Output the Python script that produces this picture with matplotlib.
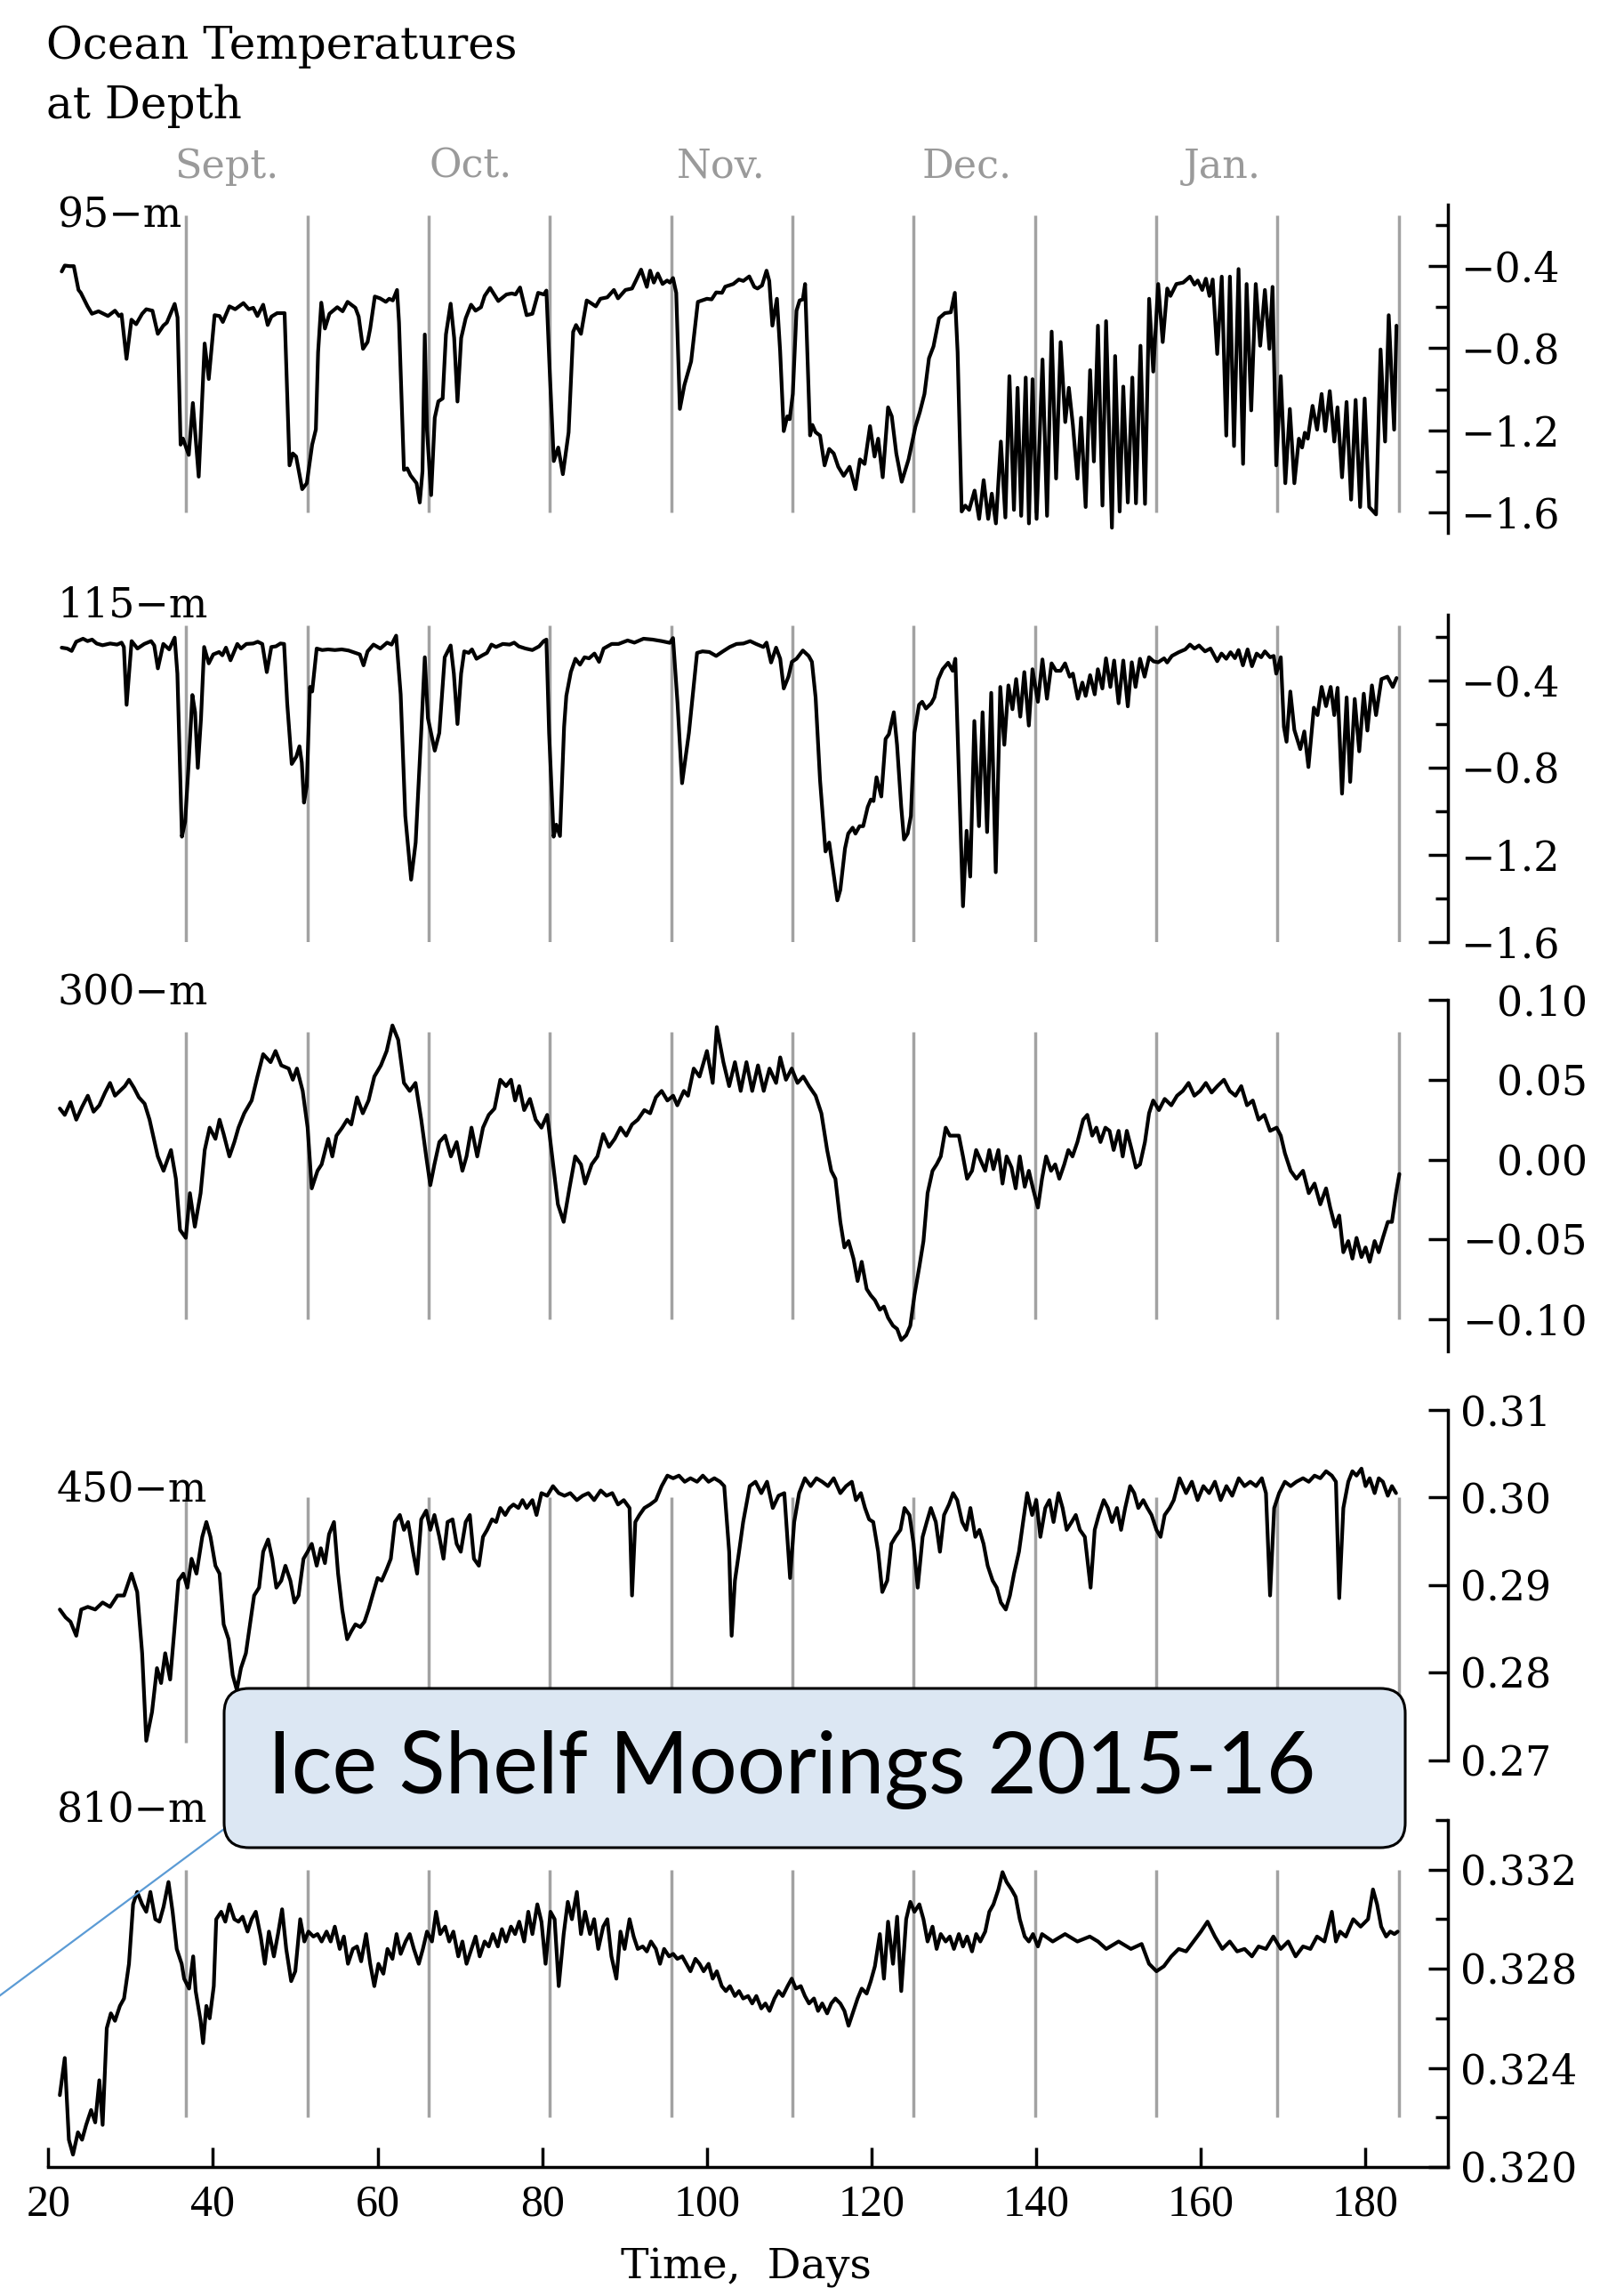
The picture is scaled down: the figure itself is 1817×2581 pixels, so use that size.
import matplotlib
matplotlib.use("Agg")
import matplotlib.pyplot as plt
from matplotlib.patches import FancyBboxPatch
from matplotlib import transforms

# ---------------- data ----------------
title_lines = ["Ocean Temperatures", "at Depth"]
month_names = ["Sept.", "Oct.", "Nov.", "Dec.", "Jan."]
month_label_days = [41.7, 71.3, 101.7, 131.6, 162.6]
month_lines = [36.73, 51.46, 66.19, 80.92, 95.65, 110.38, 125.11, 139.84, 154.57, 169.30, 184.03]
depth_labels = ["95\u2212m", "115\u2212m", "300\u2212m", "450\u2212m", "810\u2212m"]
x_ticks = [20, 40, 60, 80, 100, 120, 140, 160, 180]
x_label = "Time,  Days"
callout_text = "Ice Shelf Moorings 2015-16"

days_95 = [21.63, 22.0, 22.6, 23.1, 23.67, 23.95, 24.77, 25.3, 26.1, 27.25, 28.1, 28.6, 28.9, 29.5, 30.1, 30.67,
           31.4, 31.9, 32.65, 33.3, 33.97, 34.4, 35.35, 35.7, 36.07, 36.35, 37.06, 37.56, 38.27, 38.99, 39.49,
           40.2, 40.8, 41.2, 42.0, 42.7, 43.7, 44.35, 44.9, 45.4, 46.1, 46.65, 47.1, 47.8, 48.2, 48.7, 49.3,
           49.7, 50.1, 50.84, 51.4, 52.05, 52.5, 52.77, 53.16, 53.6, 54.15, 55.1, 55.75, 56.35, 57.3, 57.7,
           58.23, 58.78, 59.1, 59.66, 60.3, 61.0, 61.4, 61.85, 62.36, 62.6, 63.2, 63.6, 64.0, 64.73, 65.12,
           65.45, 65.73, 66.0, 66.5, 66.94, 67.38, 67.9, 68.3, 68.87, 69.3, 69.7, 70.15, 70.7, 71.35, 71.9,
           72.56, 73.0, 73.66, 74.66, 75.65, 76.3, 76.75, 77.3, 78.1, 78.8, 79.5, 80.2, 80.5, 80.9, 81.4,
           81.94, 82.5, 83.2, 83.75, 84.1, 84.7, 85.4, 85.95, 86.5, 87.06, 87.9, 88.7, 89.2, 90.1, 90.9,
           91.35, 92.0, 92.7, 93.1, 93.55, 94.03, 94.61, 95.16, 95.5, 95.88, 96.27, 96.71, 97.26, 98.08,
           98.9, 100.0, 100.57, 101.12, 101.83, 102.22, 103.2, 103.87, 104.42, 105.14, 105.75, 106.14,
           106.69, 107.24, 107.57, 107.95, 108.5, 108.89, 109.33, 109.77, 110.05, 110.43, 110.88, 111.26,
           111.65, 111.92, 112.2, 112.53, 112.81, 113.19, 113.74, 114.29, 114.85, 115.4, 115.95, 116.61,
           117.33, 118.04, 118.59, 119.15, 119.81, 120.36, 120.8, 121.35, 122.0, 122.45, 123.0, 123.66,
           124.49, 125.32, 125.87, 126.42, 126.97, 127.52, 128.19, 128.9, 129.62, 130.11, 130.45, 130.94,
           131.38, 131.85, 132.51, 133.06, 133.61, 134.16, 134.6, 135.1, 135.7, 136.25, 136.74, 137.29,
           137.73, 138.17, 138.72, 139.11, 139.55, 140.04, 140.76, 141.31, 141.87, 142.41, 142.96, 143.52,
           143.96, 144.45, 145.0, 145.44, 146.0, 146.54, 147.0, 147.49, 148.04, 148.48, 149.19, 149.58,
           150.13, 150.57, 151.12, 151.67, 152.11, 152.66, 153.21, 153.71, 154.21, 154.81, 155.36, 155.91,
           156.3, 157.02, 157.85, 158.67, 159.22, 159.61, 160.16, 160.6, 161.04, 161.43, 161.98, 162.53,
           163.08, 163.52, 164.02, 164.57, 165.12, 165.55, 166.11, 166.66, 167.2, 167.77, 168.32, 168.7,
           169.15, 169.7, 170.25, 170.8, 171.35, 171.9, 172.29, 172.62, 172.98, 173.56, 174.11, 174.66,
           175.1, 175.65, 176.2, 176.59, 177.14, 177.69, 178.24, 178.79, 179.34, 179.89, 180.44, 181.27,
           181.82, 182.37, 182.81, 183.47, 183.75]
temp_95 = [-0.426, -0.397, -0.400, -0.400, -0.516, -0.530, -0.596, -0.632, -0.620, -0.643, -0.617, -0.643, -0.635,
           -0.852, -0.661, -0.683, -0.632, -0.610, -0.617, -0.730, -0.690, -0.675, -0.584, -0.650, -1.270, -1.240,
           -1.320, -1.067, -1.426, -0.777, -0.950, -0.639, -0.643, -0.672, -0.596, -0.610, -0.580, -0.610, -0.603,
           -0.643, -0.588, -0.687, -0.646, -0.629, -0.629, -0.629, -1.371, -1.313, -1.328, -1.487, -1.458, -1.270,
           -1.196, -0.820, -0.578, -0.704, -0.632, -0.600, -0.620, -0.574, -0.603, -0.646, -0.803, -0.770, -0.704,
           -0.548, -0.557, -0.574, -0.559, -0.567, -0.516, -0.675, -1.393, -1.386, -1.420, -1.458, -1.552, -1.400,
           -0.733, -1.200, -1.516, -1.139, -1.059, -1.045, -0.733, -0.583, -0.750, -1.060, -0.750, -0.654, -0.588,
           -0.617, -0.600, -0.545, -0.506, -0.570, -0.538, -0.533, -0.538, -0.504, -0.639, -0.632, -0.530, -0.538,
           -0.519, -0.907, -1.350, -1.284, -1.414, -1.210, -0.720, -0.687, -0.730, -0.567, -0.581, -0.596, -0.559,
           -0.552, -0.516, -0.557, -0.516, -0.509, -0.472, -0.417, -0.501, -0.422, -0.480, -0.436, -0.487, -0.470,
           -0.480, -0.458, -0.530, -1.096, -0.980, -0.864, -0.574, -0.559, -0.562, -0.528, -0.530, -0.500, -0.487,
           -0.465, -0.472, -0.450, -0.501, -0.509, -0.494, -0.422, -0.472, -0.690, -0.559, -0.813, -1.204, -1.132,
           -1.146, -1.023, -0.617, -0.567, -0.562, -0.487, -0.820, -1.225, -1.174, -1.209, -1.226, -1.371, -1.291,
           -1.313, -1.378, -1.422, -1.378, -1.487, -1.342, -1.364, -1.180, -1.328, -1.241, -1.429, -1.088, -1.132,
           -1.313, -1.451, -1.342, -1.183, -1.110, -1.023, -0.849, -0.791, -0.654, -0.629, -0.625, -0.530, -0.820,
           -1.596, -1.567, -1.588, -1.494, -1.632, -1.443, -1.632, -1.509, -1.654, -1.255, -1.625, -0.936, -1.588,
           -0.993, -1.617, -0.943, -1.654, -0.951, -1.632, -0.855, -1.617, -0.719, -1.435, -0.770, -1.160, -0.993,
           -1.175, -1.436, -1.139, -1.574, -0.907, -1.352, -0.690, -1.567, -0.668, -1.675, -0.838, -1.596, -0.987,
           -1.552, -0.943, -1.556, -0.788, -1.559, -0.559, -0.914, -0.487, -0.770, -0.509, -0.545, -0.487, -0.480,
           -0.451, -0.490, -0.470, -0.516, -0.461, -0.545, -0.465, -0.828, -0.451, -1.226, -0.451, -1.277, -0.414,
           -1.364, -0.487, -1.103, -0.487, -0.788, -0.516, -0.803, -0.501, -1.371, -0.936, -1.458, -1.096, -1.458,
           -1.241, -1.284, -1.212, -1.241, -1.081, -1.197, -1.023, -1.204, -1.009, -1.255, -1.088, -1.429, -1.062,
           -1.538, -1.052, -1.574, -1.045, -1.574, -1.610, -0.806, -1.255, -0.639, -1.197, -0.690]

days_115 = [21.63, 22.29, 22.84, 23.39, 24.22, 24.77, 25.32, 25.87, 26.59, 27.52, 28.35, 28.9, 29.18, 29.51, 30.12,
            30.83, 31.66, 32.49, 32.87, 33.31, 33.97, 34.69, 35.35, 35.68, 36.23, 36.62, 37.06, 37.5, 37.83, 38.16,
            38.55, 38.93, 39.49, 40.04, 40.75, 41.14, 41.58, 42.13, 42.96, 43.4, 44.06, 44.89, 45.44, 45.99, 46.54,
            47.09, 47.65, 48.2, 48.64, 49.02, 49.57, 50.13, 50.51, 50.79, 51.06, 51.39, 51.78, 52.05, 52.6, 53.27,
            53.98, 54.81, 55.64, 56.46, 57.29, 57.84, 58.29, 58.78, 59.5, 60.33, 61.15, 61.7, 62.25, 62.8, 63.36,
            64.07, 64.62, 65.29, 65.73, 66.11, 66.94, 67.49, 68.15, 68.87, 69.26, 69.7, 70.14, 70.52, 71.07, 71.46,
            72.01, 72.73, 73.28, 73.83, 74.38, 75.21, 76.04, 76.59, 77.14, 77.96, 78.79, 79.62, 80.17, 80.5, 80.83,
            81.38, 81.71, 82.15, 82.65, 82.92, 83.47, 84.03, 84.58, 85.13, 85.68, 86.34, 86.9, 87.45, 88.44, 89.26,
            90.37, 91.19, 92.3, 93.4, 94.5, 95.5, 95.88, 96.43, 96.98, 97.81, 98.8, 99.46, 100.29, 101.12, 101.94,
            102.77, 103.6, 104.43, 105.25, 105.97, 106.85, 107.24, 107.79, 108.4, 108.9, 109.33, 109.9, 110.32,
            110.88, 111.65, 112.36, 112.75, 113.2, 113.74, 114.4, 114.85, 115.4, 115.84, 116.2, 116.77, 117.16,
            117.7, 118.04, 118.54, 118.98, 119.53, 119.9, 120.23, 120.6, 121.18, 121.7, 122.1, 122.7, 123.09,
            123.6, 123.94, 124.38, 124.77, 125.2, 125.76, 126.14, 126.6, 127.25, 127.63, 128.08, 128.63, 129.3,
            129.84, 130.17, 130.56, 131.1, 131.54, 131.98, 132.48, 133.04, 133.48, 134.03, 134.53, 135.08, 135.63,
            136.12, 136.62, 137.11, 137.56, 138.06, 138.55, 139.1, 139.54, 140.2, 140.75, 141.3, 141.86, 142.4,
            142.96, 143.5, 144.06, 144.45, 145.05, 145.6, 146.0, 146.54, 147.1, 147.48, 148.03, 148.47, 149.0,
            149.46, 150.0, 150.57, 151.12, 151.6, 152.06, 152.6, 153.16, 153.7, 154.26, 154.81, 155.53, 155.9,
            156.47, 157.3, 158.1, 158.67, 159.22, 159.77, 160.5, 161.16, 161.98, 162.5, 163.08, 163.6, 164.13,
            164.57, 165.1, 165.67, 166.2, 166.77, 167.32, 167.77, 168.4, 168.84, 169.15, 169.7, 170.08, 170.4,
            170.86, 171.35, 172.07, 172.56, 173.06, 173.72, 174.16, 174.66, 175.2, 175.76, 176.2, 176.6, 177.14,
            177.7, 178.13, 178.68, 179.23, 179.78, 180.22, 180.77, 181.27, 181.93, 182.65, 183.3, 183.76]
temp_115 = [-0.251, -0.255, -0.266, -0.224, -0.210, -0.221, -0.214, -0.232, -0.240, -0.232, -0.237, -0.228, -0.248,
            -0.513, -0.221, -0.255, -0.234, -0.221, -0.241, -0.346, -0.234, -0.259, -0.205, -0.370, -1.117, -1.049,
            -0.777, -0.468, -0.547, -0.802, -0.574, -0.248, -0.323, -0.282, -0.271, -0.286, -0.251, -0.309, -0.234,
            -0.255, -0.234, -0.232, -0.224, -0.234, -0.363, -0.248, -0.245, -0.232, -0.234, -0.506, -0.784, -0.750,
            -0.703, -0.777, -0.961, -0.886, -0.431, -0.452, -0.255, -0.262, -0.259, -0.262, -0.259, -0.264, -0.275,
            -0.282, -0.332, -0.268, -0.237, -0.255, -0.228, -0.237, -0.196, -0.465, -1.022, -1.314, -1.144, -0.642,
            -0.295, -0.574, -0.723, -0.642, -0.295, -0.241, -0.370, -0.601, -0.370, -0.268, -0.275, -0.259, -0.302,
            -0.286, -0.275, -0.237, -0.248, -0.234, -0.237, -0.228, -0.245, -0.255, -0.262, -0.245, -0.221, -0.214,
            -0.642, -1.117, -1.062, -1.114, -0.614, -0.472, -0.363, -0.302, -0.329, -0.295, -0.300, -0.278, -0.316,
            -0.255, -0.234, -0.234, -0.218, -0.228, -0.210, -0.214, -0.221, -0.229, -0.207, -0.506, -0.872, -0.642,
            -0.275, -0.268, -0.271, -0.289, -0.268, -0.248, -0.234, -0.232, -0.221, -0.234, -0.248, -0.228, -0.319,
            -0.251, -0.302, -0.438, -0.384, -0.316, -0.302, -0.264, -0.289, -0.316, -0.479, -0.859, -1.185, -1.144,
            -1.293, -1.409, -1.361, -1.171, -1.103, -1.076, -1.103, -1.069, -1.069, -0.981, -0.947, -0.954, -0.845,
            -0.933, -0.669, -0.648, -0.547, -0.696, -0.981, -1.130, -1.103, -1.022, -0.642, -0.513, -0.499, -0.530,
            -0.506, -0.479, -0.397, -0.350, -0.320, -0.357, -0.302, -0.777, -1.436, -1.090, -1.300, -0.587, -1.069,
            -0.547, -1.096, -0.458, -1.280, -0.431, -0.696, -0.424, -0.533, -0.395, -0.567, -0.363, -0.608, -0.350,
            -0.499, -0.305, -0.485, -0.323, -0.357, -0.357, -0.323, -0.384, -0.370, -0.485, -0.411, -0.472, -0.377,
            -0.465, -0.350, -0.438, -0.300, -0.431, -0.310, -0.506, -0.310, -0.520, -0.318, -0.431, -0.302, -0.384,
            -0.295, -0.314, -0.318, -0.300, -0.319, -0.289, -0.272, -0.259, -0.237, -0.255, -0.241, -0.268, -0.255,
            -0.313, -0.278, -0.302, -0.272, -0.299, -0.262, -0.332, -0.259, -0.336, -0.278, -0.295, -0.268, -0.295,
            -0.289, -0.370, -0.295, -0.614, -0.682, -0.452, -0.628, -0.716, -0.635, -0.798, -0.526, -0.560, -0.431,
            -0.519, -0.431, -0.560, -0.435, -0.920, -0.479, -0.866, -0.486, -0.726, -0.462, -0.631, -0.424, -0.560,
            -0.395, -0.384, -0.431, -0.390]

days_300 = [21.4, 22.0, 22.7, 23.4, 24.1, 24.8, 25.5, 26.2, 26.9, 27.5, 28.1, 28.7, 29.3, 29.8, 30.4, 31.0, 31.7,
            32.3, 33.3, 34.0, 34.9, 35.5, 36.0, 36.7, 37.2, 37.8, 38.5, 39.0, 39.6, 40.3, 40.8, 41.3, 42.0, 42.6,
            43.1, 43.8, 44.7, 45.4, 46.1, 47.0, 47.6, 48.3, 49.2, 49.7, 50.2, 50.9, 51.5, 52.0, 52.7, 53.2, 54.0,
            54.5, 55.0, 55.7, 56.3, 56.8, 57.5, 58.2, 58.9, 59.6, 60.4, 61.1, 61.8, 62.5, 63.2, 63.9, 64.6, 65.3,
            65.9, 66.4, 66.9, 67.5, 68.2, 68.9, 69.6, 70.3, 70.8, 71.4, 72.1, 72.8, 73.5, 74.2, 74.9, 75.6, 76.2,
            76.7, 77.2, 77.8, 78.5, 79.2, 79.9, 80.6, 81.2, 81.9, 82.6, 83.3, 84.0, 84.7, 85.2, 86.0, 86.7, 87.4,
            88.1, 88.8, 89.5, 90.2, 90.9, 91.6, 92.4, 93.1, 93.8, 94.5, 95.2, 95.9, 96.4, 97.2, 97.7, 98.4, 99.1,
            100.0, 100.7, 101.2, 102.0, 102.7, 103.4, 104.1, 104.8, 105.5, 106.2, 106.9, 107.6, 108.4, 108.9,
            109.6, 110.3, 111.0, 111.7, 112.4, 113.2, 113.9, 114.6, 115.1, 115.6, 116.2, 116.7, 117.2, 117.8,
            118.3, 118.8, 119.4, 119.9, 120.4, 121.0, 121.5, 122.0, 122.6, 123.1, 123.6, 124.2, 124.7, 125.2,
            125.8, 126.3, 126.8, 127.4, 127.9, 128.4, 129.0, 129.5, 130.0, 130.6, 131.1, 131.6, 132.2, 132.7,
            133.2, 133.8, 134.3, 134.8, 135.4, 135.9, 136.4, 137.0, 137.5, 138.0, 138.6, 139.1, 139.6, 140.2,
            140.7, 141.2, 141.8, 142.3, 142.8, 143.4, 143.9, 144.4, 145.0, 145.7, 146.2, 146.8, 147.3, 147.8,
            148.4, 148.9, 149.4, 150.0, 150.5, 151.0, 151.6, 152.1, 152.6, 153.2, 153.7, 154.2, 154.9, 155.6,
            156.4, 157.1, 157.8, 158.5, 159.2, 159.9, 160.6, 161.3, 162.0, 162.8, 163.5, 164.2, 164.9, 165.6,
            166.3, 167.0, 167.7, 168.4, 169.2, 169.7, 170.2, 170.9, 171.6, 172.4, 173.1, 173.8, 174.5, 175.2,
            175.7, 176.3, 176.8, 177.3, 177.9, 178.4, 178.9, 179.5, 180.0, 180.5, 181.1, 181.6, 182.1, 182.7,
            183.2, 183.7, 184.1]
temp_300 = [0.032, 0.028, 0.036, 0.025, 0.033, 0.040, 0.030, 0.034, 0.042, 0.048, 0.040, 0.043, 0.046, 0.050, 0.045,
            0.039, 0.035, 0.025, 0.002, -0.007, 0.006, -0.012, -0.044, -0.049, -0.021, -0.042, -0.021, 0.006, 0.020,
            0.013, 0.025, 0.016, 0.002, 0.011, 0.020, 0.029, 0.037, 0.052, 0.066, 0.061, 0.068, 0.059, 0.057, 0.050,
            0.057, 0.043, 0.020, -0.018, -0.007, -0.003, 0.013, 0.002, 0.015, 0.020, 0.025, 0.022, 0.039, 0.029,
            0.037, 0.052, 0.059, 0.068, 0.084, 0.075, 0.048, 0.043, 0.048, 0.025, 0.002, -0.016, -0.003, 0.011,
            0.015, 0.002, 0.011, -0.007, 0.002, 0.020, 0.002, 0.020, 0.028, 0.032, 0.050, 0.046, 0.050, 0.037,
            0.046, 0.031, 0.038, 0.025, 0.020, 0.028, 0.002, -0.028, -0.039, -0.018, 0.002, -0.003, -0.015, -0.003,
            0.002, 0.016, 0.008, 0.013, 0.020, 0.015, 0.022, 0.025, 0.031, 0.029, 0.039, 0.043, 0.037, 0.040,
            0.034, 0.043, 0.040, 0.057, 0.052, 0.068, 0.048, 0.083, 0.061, 0.046, 0.061, 0.043, 0.061, 0.043,
            0.059, 0.043, 0.057, 0.048, 0.064, 0.050, 0.057, 0.048, 0.052, 0.046, 0.040, 0.029, 0.006, -0.007,
            -0.012, -0.039, -0.055, -0.051, -0.062, -0.076, -0.064, -0.081, -0.085, -0.088, -0.094, -0.092, -0.099,
            -0.104, -0.106, -0.113, -0.110, -0.104, -0.085, -0.067, -0.051, -0.021, -0.007, -0.003, 0.002, 0.020,
            0.015, 0.015, 0.015, 0.002, -0.012, -0.007, 0.006, 0.000, -0.007, 0.006, -0.006, 0.006, -0.015, 0.002,
            -0.005, -0.018, 0.002, -0.017, -0.007, -0.018, -0.030, -0.012, 0.002, -0.007, -0.003, -0.012, -0.003,
            0.006, 0.002, 0.011, 0.025, 0.028, 0.015, 0.020, 0.011, 0.020, 0.018, 0.006, 0.018, 0.002, 0.018,
            0.006, -0.005, -0.003, 0.011, 0.029, 0.037, 0.031, 0.038, 0.034, 0.040, 0.043, 0.048, 0.040, 0.043,
            0.048, 0.042, 0.046, 0.050, 0.043, 0.040, 0.046, 0.034, 0.037, 0.025, 0.028, 0.018, 0.020, 0.015,
            0.004, -0.007, -0.012, -0.007, -0.021, -0.015, -0.028, -0.018, -0.030, -0.042, -0.035, -0.058, -0.051,
            -0.062, -0.049, -0.061, -0.055, -0.064, -0.051, -0.058, -0.049, -0.039, -0.039, -0.021, -0.009]

days_450 = [21.4, 22.1, 22.7, 23.4, 24.0, 24.8, 25.7, 26.6, 27.5, 28.4, 29.2, 30.1, 30.8, 31.4, 31.9, 32.6, 33.2,
            33.7, 34.2, 34.8, 35.3, 35.8, 36.4, 36.9, 37.4, 38.0, 38.7, 39.2, 39.7, 40.3, 40.8, 41.3, 41.9, 42.4,
            42.9, 43.4, 44.0, 44.5, 45.0, 45.6, 46.1, 46.7, 47.2, 47.7, 48.3, 48.8, 49.4, 49.9, 50.4, 51.0, 51.5,
            52.0, 52.6, 53.1, 53.6, 54.1, 54.7, 55.2, 55.7, 56.3, 56.8, 57.3, 57.9, 58.4, 58.9, 59.5, 60.0, 60.5,
            61.1, 61.6, 62.1, 62.7, 63.2, 63.7, 64.3, 64.8, 65.3, 65.9, 66.4, 66.9, 67.5, 68.0, 68.5, 69.1, 69.6,
            70.1, 70.7, 71.2, 71.7, 72.3, 72.8, 73.3, 73.9, 74.4, 74.9, 75.5, 76.0, 76.5, 77.1, 77.6, 78.1, 78.8,
            79.3, 79.9, 80.6, 81.3, 82.0, 82.7, 83.4, 84.2, 84.9, 85.6, 86.3, 87.1, 87.8, 88.5, 89.2, 89.9, 90.6,
            90.9, 91.3, 91.8, 92.4, 93.1, 93.8, 94.5, 95.2, 95.9, 96.6, 97.3, 98.0, 98.8, 99.5, 100.2, 100.9,
            101.6, 102.1, 102.7, 103.0, 103.4, 103.9, 104.4, 105.2, 105.9, 106.6, 107.3, 108.0, 108.7, 109.4,
            110.1, 110.6, 111.2, 111.9, 112.6, 113.3, 114.0, 114.7, 115.4, 116.2, 116.9, 117.6, 118.1, 118.7,
            119.2, 119.7, 120.2, 120.8, 121.3, 121.9, 122.4, 122.9, 123.5, 124.0, 124.6, 125.1, 125.6, 126.2,
            126.7, 127.2, 127.8, 128.3, 128.8, 129.4, 129.9, 130.4, 131.0, 131.5, 132.0, 132.6, 133.1, 133.6,
            134.1, 134.7, 135.2, 135.7, 136.3, 136.8, 137.3, 137.9, 138.4, 138.9, 139.5, 140.0, 140.5, 141.1,
            141.6, 142.1, 142.7, 143.2, 143.7, 144.3, 144.8, 145.3, 145.9, 146.6, 147.1, 147.6, 148.2, 148.7,
            149.2, 149.8, 150.3, 150.8, 151.4, 151.9, 152.4, 153.0, 153.5, 154.0, 154.6, 155.1, 155.6, 156.2,
            156.7, 157.4, 158.2, 158.9, 159.6, 160.3, 161.0, 161.7, 162.4, 163.1, 163.8, 164.6, 165.3, 166.0,
            166.7, 167.4, 167.9, 168.4, 168.9, 169.5, 170.2, 170.9, 171.6, 172.4, 173.1, 173.8, 174.5, 175.2,
            175.9, 176.4, 176.8, 177.3, 177.9, 178.4, 178.9, 179.5, 180.0, 180.5, 181.1, 181.6, 182.1, 182.7,
            183.2, 183.7]
temp_450 = [0.2872, 0.2863, 0.2858, 0.2842, 0.2872, 0.2875, 0.2872, 0.2880, 0.2875, 0.2888, 0.2888, 0.2913, 0.2892,
            0.2822, 0.2722, 0.2755, 0.2805, 0.2788, 0.2822, 0.2792, 0.2847, 0.2905, 0.2913, 0.2897, 0.2930, 0.2913,
            0.2955, 0.2972, 0.2955, 0.2922, 0.2913, 0.2855, 0.2838, 0.2797, 0.2780, 0.2805, 0.2822, 0.2855, 0.2888,
            0.2897, 0.2938, 0.2952, 0.2930, 0.2897, 0.2905, 0.2922, 0.2905, 0.2880, 0.2888, 0.2930, 0.2938, 0.2947,
            0.2922, 0.2942, 0.2925, 0.2958, 0.2972, 0.2913, 0.2872, 0.2838, 0.2847, 0.2855, 0.2852, 0.2858, 0.2872,
            0.2892, 0.2908, 0.2905, 0.2918, 0.2930, 0.2972, 0.2980, 0.2963, 0.2972, 0.2938, 0.2913, 0.2975, 0.2985,
            0.2963, 0.2980, 0.2955, 0.2930, 0.2972, 0.2975, 0.2947, 0.2938, 0.2972, 0.2980, 0.2930, 0.2922, 0.2955,
            0.2963, 0.2975, 0.2972, 0.2988, 0.2980, 0.2988, 0.2992, 0.2988, 0.2997, 0.2988, 0.2997, 0.2980, 0.3005,
            0.3002, 0.3013, 0.3005, 0.3002, 0.3005, 0.2997, 0.3002, 0.3005, 0.2997, 0.3008, 0.3002, 0.3005, 0.2992,
            0.2997, 0.2988, 0.2888, 0.2972, 0.2980, 0.2988, 0.2992, 0.2997, 0.3013, 0.3025, 0.3022, 0.3025, 0.3018,
            0.3022, 0.3018, 0.3025, 0.3018, 0.3022, 0.3018, 0.3013, 0.2938, 0.2842, 0.2905, 0.2938, 0.2972, 0.3013,
            0.3018, 0.3005, 0.3018, 0.2988, 0.3002, 0.3005, 0.2908, 0.2972, 0.3005, 0.3022, 0.3013, 0.3022, 0.3018,
            0.3013, 0.3022, 0.3005, 0.3013, 0.3018, 0.2997, 0.3005, 0.2988, 0.2975, 0.2972, 0.2938, 0.2892, 0.2905,
            0.2947, 0.2955, 0.2963, 0.2988, 0.2980, 0.2947, 0.2897, 0.2955, 0.2972, 0.2988, 0.2972, 0.2938, 0.2980,
            0.2992, 0.3005, 0.2997, 0.2972, 0.2963, 0.2988, 0.2955, 0.2963, 0.2947, 0.2922, 0.2905, 0.2897, 0.2880,
            0.2872, 0.2888, 0.2913, 0.2938, 0.2972, 0.3005, 0.2980, 0.2997, 0.2955, 0.2988, 0.2997, 0.2972, 0.3005,
            0.2988, 0.2963, 0.2972, 0.2980, 0.2963, 0.2955, 0.2897, 0.2963, 0.2980, 0.2997, 0.2988, 0.2972, 0.2988,
            0.2963, 0.2988, 0.3013, 0.3005, 0.2988, 0.2997, 0.2988, 0.2980, 0.2963, 0.2955, 0.2980, 0.2988, 0.2997,
            0.3022, 0.3005, 0.3018, 0.2997, 0.3013, 0.3005, 0.3018, 0.2997, 0.3013, 0.3002, 0.3022, 0.3013, 0.3018,
            0.3013, 0.3022, 0.3005, 0.2888, 0.2988, 0.3005, 0.3018, 0.3013, 0.3018, 0.3022, 0.3018, 0.3025, 0.3022,
            0.3030, 0.3025, 0.3018, 0.2885, 0.2988, 0.3018, 0.3030, 0.3025, 0.3033, 0.3013, 0.3022, 0.3005, 0.3022,
            0.3018, 0.3002, 0.3013, 0.3005]

days_810 = [21.4, 22.0, 22.5, 23.0, 23.6, 24.1, 24.6, 25.2, 25.7, 26.2, 26.6, 27.1, 27.6, 28.1, 28.7, 29.2, 29.8,
            30.3, 30.8, 31.4, 31.9, 32.4, 33.0, 33.5, 34.0, 34.6, 35.1, 35.6, 36.2, 36.5, 37.1, 37.6, 37.9, 38.5,
            38.8, 39.2, 39.6, 40.1, 40.4, 41.0, 41.5, 42.0, 42.6, 43.1, 43.6, 44.2, 44.7, 45.2, 45.8, 46.3, 46.8,
            47.4, 47.9, 48.4, 48.9, 49.5, 50.0, 50.6, 51.1, 51.6, 52.2, 52.7, 53.2, 53.8, 54.3, 54.8, 55.4, 55.9,
            56.4, 57.0, 57.5, 58.0, 58.6, 59.1, 59.6, 60.1, 60.7, 61.2, 61.8, 62.3, 62.8, 63.4, 63.9, 64.4, 65.0,
            65.5, 66.0, 66.6, 67.1, 67.6, 68.2, 68.7, 69.2, 69.8, 70.3, 70.8, 71.4, 71.9, 72.4, 73.0, 73.5, 74.0,
            74.6, 75.1, 75.6, 76.2, 76.7, 77.2, 77.8, 78.3, 78.8, 79.4, 79.9, 80.4, 81.0, 81.5, 82.0, 82.6, 83.1,
            83.6, 84.2, 84.7, 85.2, 85.8, 86.3, 86.8, 87.4, 87.9, 88.4, 89.0, 89.5, 90.0, 90.6, 91.1, 91.6, 92.2,
            92.7, 93.2, 93.8, 94.3, 94.8, 95.4, 95.9, 96.4, 97.0, 97.5, 98.0, 98.6, 99.1, 99.6, 100.2, 100.7,
            101.2, 101.8, 102.3, 102.8, 103.4, 103.9, 104.4, 105.0, 105.5, 106.0, 106.6, 107.1, 107.6, 108.2,
            108.7, 109.2, 109.8, 110.3, 110.8, 111.4, 111.9, 112.4, 113.0, 113.5, 114.0, 114.6, 115.1, 115.6,
            116.2, 116.7, 117.2, 117.8, 118.3, 118.8, 119.4, 119.9, 120.4, 121.0, 121.5, 122.0, 122.6, 123.1,
            123.6, 124.2, 124.7, 125.2, 125.8, 126.3, 126.8, 127.4, 127.9, 128.4, 129.0, 129.5, 130.0, 130.6,
            131.1, 131.6, 132.2, 132.7, 133.2, 133.8, 134.3, 134.8, 135.4, 135.9, 136.4, 137.0, 137.5, 138.0,
            138.6, 139.1, 139.6, 140.2, 140.7, 142.0, 143.5, 145.0, 146.5, 147.5, 148.5, 150.0, 151.5, 152.8,
            153.7, 154.6, 155.5, 156.4, 157.3, 158.2, 159.1, 160.0, 160.8, 161.7, 162.6, 163.5, 164.4, 165.3,
            166.2, 167.0, 167.9, 168.8, 169.7, 170.6, 171.5, 172.4, 173.3, 174.1, 175.0, 175.9, 176.4, 176.9,
            177.6, 178.5, 179.4, 180.3, 180.9, 181.4, 181.9, 182.5, 183.0, 183.5, 183.9]
temp_810 = [0.3229, 0.3244, 0.3211, 0.3205, 0.3214, 0.3211, 0.3217, 0.3223, 0.3218, 0.3235, 0.3217, 0.3256, 0.3262,
            0.3259, 0.3265, 0.3268, 0.3282, 0.3306, 0.3311, 0.3306, 0.3303, 0.3311, 0.3300, 0.3299, 0.3305, 0.3315,
            0.3303, 0.3288, 0.3282, 0.3276, 0.3272, 0.3285, 0.3271, 0.3259, 0.3250, 0.3265, 0.3260, 0.3273, 0.3300,
            0.3303, 0.3299, 0.3306, 0.3300, 0.3299, 0.3301, 0.3295, 0.3300, 0.3303, 0.3293, 0.3282, 0.3295, 0.3285,
            0.3294, 0.3304, 0.3288, 0.3275, 0.3279, 0.3300, 0.3291, 0.3295, 0.3293, 0.3294, 0.3291, 0.3295, 0.3291,
            0.3297, 0.3288, 0.3293, 0.3282, 0.3288, 0.3289, 0.3283, 0.3294, 0.3282, 0.3273, 0.3282, 0.3278, 0.3288,
            0.3284, 0.3294, 0.3286, 0.3291, 0.3294, 0.3288, 0.3282, 0.3288, 0.3295, 0.3291, 0.3303, 0.3294, 0.3297,
            0.3291, 0.3295, 0.3285, 0.3291, 0.3282, 0.3288, 0.3293, 0.3285, 0.3291, 0.3289, 0.3294, 0.3289, 0.3296,
            0.3291, 0.3297, 0.3294, 0.3299, 0.3291, 0.3303, 0.3294, 0.3306, 0.3299, 0.3282, 0.3303, 0.3300, 0.3273,
            0.3294, 0.3307, 0.3300, 0.3311, 0.3294, 0.3303, 0.3294, 0.3300, 0.3288, 0.3297, 0.3300, 0.3285, 0.3276,
            0.3295, 0.3288, 0.3300, 0.3293, 0.3288, 0.3289, 0.3287, 0.3291, 0.3288, 0.3282, 0.3288, 0.3285, 0.3286,
            0.3284, 0.3285, 0.3282, 0.3279, 0.3284, 0.3282, 0.3279, 0.3282, 0.3276, 0.3279, 0.3273, 0.3271, 0.3273,
            0.3269, 0.3271, 0.3268, 0.3269, 0.3266, 0.3269, 0.3264, 0.3266, 0.3263, 0.3268, 0.3271, 0.3269, 0.3273,
            0.3276, 0.3272, 0.3273, 0.3269, 0.3266, 0.3268, 0.3263, 0.3266, 0.3262, 0.3266, 0.3268, 0.3266, 0.3263,
            0.3257, 0.3263, 0.3268, 0.3272, 0.3270, 0.3275, 0.3281, 0.3294, 0.3276, 0.3299, 0.3282, 0.3301, 0.3271,
            0.3300, 0.3307, 0.3303, 0.3306, 0.3300, 0.3291, 0.3297, 0.3288, 0.3294, 0.3291, 0.3293, 0.3288, 0.3294,
            0.3289, 0.3293, 0.3287, 0.3294, 0.3291, 0.3295, 0.3303, 0.3306, 0.3312, 0.3319, 0.3315, 0.3312, 0.3309,
            0.3300, 0.3293, 0.3291, 0.3294, 0.3289, 0.3294, 0.3291, 0.3294, 0.3291, 0.3293, 0.3291, 0.3288, 0.3291,
            0.3288, 0.3290, 0.3282, 0.3279, 0.3281, 0.3285, 0.3288, 0.3287, 0.3291, 0.3295, 0.3299, 0.3293, 0.3288,
            0.3291, 0.3287, 0.3288, 0.3285, 0.3289, 0.3288, 0.3293, 0.3288, 0.3291, 0.3285, 0.3289, 0.3288, 0.3293,
            0.3291, 0.3303, 0.3291, 0.3295, 0.3293, 0.3300, 0.3297, 0.3300, 0.3312, 0.3306, 0.3297, 0.3293, 0.3295,
            0.3294, 0.3295]

# panel axis settings (value ranges / ticks)
ylims = [(-1.7, -0.1), (-1.6, -0.1), (-0.12, 0.10), (0.27, 0.31), (0.320, 0.334)]
major_ticks = [[-1.6, -1.2, -0.8, -0.4], [-1.6, -1.2, -0.8, -0.4], [-0.10, -0.05, 0.0, 0.05, 0.10],
               [0.27, 0.28, 0.29, 0.30, 0.31], [0.320, 0.324, 0.328, 0.332]]
minor_ticks = [[-1.4, -1.0, -0.6, -0.2], [-1.4, -1.0, -0.6, -0.2], [], [], [0.322, 0.326, 0.330, 0.334]]
tick_decimals = [1, 1, 2, 2, 3]
grey_spans = [(-1.6, -0.15), (-1.6, -0.15), (-0.10, 0.08), (0.272, 0.30), (0.322, 0.332)]

series_days = [days_95, days_115, days_300, days_450, days_810]
series_temps = [temp_95, temp_115, temp_300, temp_450, temp_810]

# ---------------- layout (pixels) ----------------
W, H = 1817, 2581
fig = plt.figure(figsize=(W / 100, H / 100), dpi=100)
X0, X1 = 54.3, 1628.0
panel_px = [(230, 599), (691, 1059), (1124, 1519), (1585, 1978.5), (2046, 2436)]
label_base = [255, 693, 1129, 1687, 2048]

SERIF = "DejaVu Serif"

axes = []
for i in range(5):
    top, bot = panel_px[i]
    ax = fig.add_axes([X0 / W, 1 - bot / H, (X1 - X0) / W, (bot - top) / H])
    ax.set_xlim(20, 190)
    ax.set_ylim(*ylims[i])
    ax.patch.set_visible(False)
    for s in ["left", "top"]:
        ax.spines[s].set_visible(False)
    ax.spines["right"].set_linewidth(2.5)
    ax.spines["bottom"].set_linewidth(2.5)
    ax.spines["bottom"].set_visible(i == 4)

    ax.vlines(month_lines, grey_spans[i][0], grey_spans[i][1], color="#a2a2a2", lw=2.5, zorder=1)
    ax.plot(series_days[i], series_temps[i], color="black", lw=3.0, zorder=3,
            solid_joinstyle="round", solid_capstyle="round")

    ax.yaxis.tick_right()
    ax.set_yticks(major_ticks[i])
    ax.set_yticks(minor_ticks[i], minor=True)
    d = tick_decimals[i]
    ax.set_yticklabels([f"{v:.{d}f}".replace("-", "\u2212") for v in major_ticks[i]])
    ax.tick_params(axis="y", which="major", direction="in", length=16, width=2.5,
                   labelsize=33, pad=10, left=False, right=True, labelfontfamily=SERIF)
    ax.tick_params(axis="y", which="minor", direction="in", length=10, width=2.5, left=False, right=True)
    if i == 2:
        ax.tick_params(axis="y", which="major", pad=113)
        for t in ax.get_yticklabels():
            t.set_horizontalalignment("right")
    if i == 4:
        ax.set_xticks(x_ticks)
        ax.tick_params(axis="x", which="major", direction="in", length=16, width=2.5,
                       labelsize=36, pad=14, top=False, bottom=True, labelfontfamily="Liberation Serif")
    else:
        ax.set_xticks([])
    axes.append(ax)

# overlay in pixel coordinates
ov = fig.add_axes([0, 0, 1, 1], zorder=10)
ov.set_xlim(0, W)
ov.set_ylim(H, 0)
ov.axis("off")

ov.text(52, 66, title_lines[0], family=SERIF, fontsize=36, va="baseline", ha="left")
ov.text(52, 133, title_lines[1], family=SERIF, fontsize=36, va="baseline", ha="left")

tr = transforms.blended_transform_factory(axes[0].transData, ov.transData)
for name, dx in zip(month_names, month_label_days):
    ov.text(dx, 200, name, transform=tr, family=SERIF, fontsize=32, color="#9a9a9a",
            ha="center", va="baseline")

for lab, yb in zip(depth_labels, label_base):
    ov.text(64, yb, lab, family=SERIF, fontsize=33, va="baseline", ha="left")

ov.text(839, 2562, x_label, family=SERIF, fontsize=34, ha="center", va="baseline")

# callout
ov.plot([252, -20], [2056, 2258], color="#5b9bd5", lw=1.6, zorder=1, clip_on=True)
box = FancyBboxPatch((252, 1898), 1328, 179, boxstyle="round,pad=0,rounding_size=28",
                     fc="#dce7f3", ec="black", lw=2.2, zorder=2)
ov.add_patch(box)
ov.text(301, 2016, callout_text, family="Lato", fontsize=69, va="baseline", ha="left", zorder=3)

fig.savefig("out.png", dpi=100)
